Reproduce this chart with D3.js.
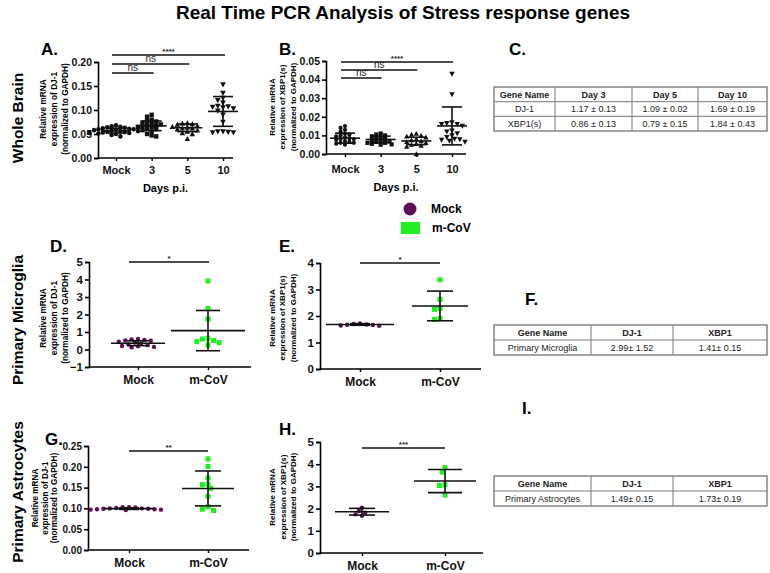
<!DOCTYPE html>
<html><head><meta charset="utf-8">
<script src="https://cdn.jsdelivr.net/npm/d3@7"></script>
<style>
body{margin:0;background:#fff;}
svg{display:block;font-family:"Liberation Sans",Arial,sans-serif;}
</style></head>
<body>
<svg id="fig" width="770" height="573"></svg>
<script>
// ---------------- DATA ----------------
const titleText = "Real Time PCR Analysis of Stress response genes";
const rowLabels = ["Whole Brain", "Primary Microglia", "Primary Astrocytes"];
const daysCats = ["Mock", "3", "5", "10"];
const twoCats = ["Mock", "m-CoV"];
const legendLabels = ["Mock", "m-CoV"];

// Panel A: DJ-1 whole brain
const A_mock = [0.045,0.048,0.050,0.051,0.052,0.053,0.054,0.055,0.056,0.057,0.058,0.059,0.060,0.061,0.062,0.063,0.064,0.065,0.066,0.068,0.052,0.056,0.060];
const A_d3 = [0.045,0.047,0.050,0.055,0.058,0.060,0.062,0.064,0.066,0.068,0.070,0.072,0.074,0.076,0.078,0.080,0.086,0.090,0.065,0.070];
const A_d5 = [0.040,0.050,0.052,0.055,0.058,0.060,0.062,0.064,0.065,0.067,0.070,0.071,0.072,0.073,0.062];
const A_d10 = [0.053,0.053,0.054,0.055,0.055,0.075,0.090,0.098,0.103,0.105,0.106,0.107,0.108,0.115,0.120,0.125,0.135,0.153];
const A_mean = [0.057,0.067,0.063,0.097];
const A_sd = [0.005,0.010,0.008,0.031];
const A_ticks = [0,0.05,0.10,0.15,0.20];
const A_sig = [["Mock","10","****"],["Mock","5","ns"],["Mock","3","ns"]];

// Panel B: XBP1(s) whole brain
const B_mock = [0.005,0.0055,0.006,0.0065,0.007,0.0075,0.008,0.0085,0.009,0.0095,0.010,0.0105,0.011,0.012,0.013,0.014,0.015,0.006,0.008];
const B_d3 = [0.005,0.0055,0.006,0.0065,0.007,0.007,0.0075,0.008,0.0085,0.009,0.0095,0.010,0.0105,0.011,0.0052,0.006];
const B_d5 = [0.000,0.004,0.0045,0.005,0.0055,0.006,0.0065,0.007,0.0075,0.008,0.009,0.010,0.0105,0.011,0.0095];
const B_d10 = [0.0065,0.007,0.0075,0.008,0.009,0.010,0.011,0.012,0.0125,0.015,0.016,0.016,0.0165,0.017,0.032,0.043,0.0078];
const B_mean = [0.0085,0.0078,0.0070,0.0151];
const B_sd = [0.0027,0.0018,0.0020,0.0102];
const B_ticks = [0,0.01,0.02,0.03,0.04,0.05];
const B_sig = [["Mock","10","****"],["Mock","5","ns"],["Mock","3","ns"]];

// Panel D: DJ-1 primary microglia
const D_mock = [0.12,0.15,0.18,0.20,0.25,0.30,0.35,0.40,0.45,0.50,0.52,0.55,0.58,0.60];
const D_mcov = [3.92,2.35,1.74,0.60,0.51,0.45,0.64,0.40,0.25];
const D_mean = [0.36,1.08];
const D_sd = [0.14,1.15];
const D_ticks = [-1,0,1,2,3,4,5];
const D_sig = [["Mock","m-CoV","*"]];

// Panel E: XBP1(s) primary microglia
const E_mock = [1.63,1.64,1.66,1.67,1.68,1.70,1.72];
const E_mcov = [3.37,2.63,2.29,2.25,1.90,1.87];
const E_mean = [1.68,2.38];
const E_sd = [0.03,0.56];
const E_ticks = [0,1,2,3,4];
const E_sig = [["Mock","m-CoV","*"]];

// Panel G: DJ-1 primary astrocytes
const G_mock = [0.096,0.097,0.097,0.098,0.098,0.099,0.099,0.100,0.100,0.101,0.102,0.103,0.103];
const G_mcov = [0.219,0.201,0.173,0.158,0.157,0.148,0.129,0.104,0.098,0.095];
const G_mean = [0.0995,0.148];
const G_sd = [0.002,0.042];
const G_ticks = [0,0.05,0.10,0.15,0.20,0.25];
const G_sig = [["Mock","m-CoV","**"]];

// Panel H: XBP1(s) primary astrocytes
const H_mock = [2.04,1.89,1.81,1.74,1.68];
const H_mcov = [3.85,3.64,3.07,3.04,2.61];
const H_mean = [1.86,3.24];
const H_sd = [0.15,0.52];
const H_ticks = [0,1,2,3,4,5];
const H_sig = [["Mock","m-CoV","***"]];

// Tables
const tableC_header = ["Gene Name","Day 3","Day 5","Day 10"];
const tableC_rows = [["DJ-1","1.17 ± 0.13","1.09 ± 0.02","1.69 ± 0.19"],["XBP1(s)","0.86 ± 0.13","0.79 ± 0.15","1.84 ± 0.43"]];
const tableF_header = ["Gene Name","DJ-1","XBP1"];
const tableF_rows = [["Primary Microglia","2.99± 1.52","1.41± 0.15"]];
const tableI_header = ["Gene Name","DJ-1","XBP1"];
const tableI_rows = [["Primary Astrocytes","1.49± 0.15","1.73± 0.19"]];

const yLabelDJ1 = ["Relative mRNA","expression of DJ-1","(normalized to GAPDH)"];
const yLabelXBP = ["Relative mRNA","expression of XBP1(s)","(normalized to GAPDH)"];

// ---------------- DRAWING ----------------
const svg = d3.select("#fig");
const PURPLE = "#5e0f55", GREEN = "#22ee22";

svg.append("text").attr("x", 403).attr("y", 19).attr("text-anchor","middle")
  .attr("font-size", 19).attr("font-weight","bold").text(titleText);

const rowLabelPos = [[19,118],[19,320],[19,492]];
rowLabels.forEach((t,i)=>{
  svg.append("text").attr("transform",`translate(${rowLabelPos[i][0]},${rowLabelPos[i][1]}) rotate(-90)`)
    .attr("text-anchor","middle").attr("dominant-baseline","middle")
    .attr("font-size",15.5).attr("font-weight","bold").text(t);
});

function shapePath(shape, size){
  const s = size;
  if (shape==="square") return `M${-s/2},${-s/2}h${s}v${s}h${-s}Z`;
  if (shape==="up") return `M0,${-s*0.55}L${s*0.55},${s*0.45}L${-s*0.55},${s*0.45}Z`;
  if (shape==="down") return `M0,${s*0.55}L${s*0.55},${-s*0.45}L${-s*0.55},${-s*0.45}Z`;
  return d3.symbol(d3.symbolCircle, Math.PI*(s/2)*(s/2))();
}

function dodge(values, y, diam, step){
  const pts = values.map(v=>({v, y:y(v)})).sort((a,b)=>a.y-b.y);
  const placed = [];
  for (const p of pts){
    for (let k=0;k<200;k++){
      const dx = (k%2===0?1:-1)*Math.ceil(k/2)*step;
      if (placed.every(q=>Math.hypot(q.dx-dx,q.y-p.y)>=diam)){p.dx=dx;break;}
    }
    placed.push(p);
  }
  return placed;
}

function panel(cfg){
  const g = svg.append("g");
  const y = d3.scaleLinear().domain(cfg.domain).range([cfg.yBot, cfg.yTop]);
  const x = d3.scalePoint().domain(cfg.cats).range(cfg.catRange);
  const ya = g.append("g").attr("transform",`translate(${cfg.x0},0)`)
    .call(d3.axisLeft(y).tickValues(cfg.ticks).tickFormat(cfg.fmt).tickSize(4).tickPadding(2));
  ya.select(".domain").attr("stroke","#000").attr("stroke-width",1.6);
  ya.selectAll(".tick line").attr("stroke-width",1.6);
  ya.selectAll("text").attr("font-size",cfg.tickFont).attr("font-weight","bold")
    .attr("font-family","'Liberation Sans',Arial,sans-serif").attr("fill","#111");
  const xa = g.append("g").attr("transform",`translate(0,${cfg.yBot})`)
    .call(d3.axisBottom(x).tickSize(3).tickPadding(cfg.xPad));
  xa.select(".domain").attr("d",`M${cfg.x0},0H${cfg.x1}`).attr("stroke-width",1.6);
  xa.selectAll(".tick line").attr("stroke-width",1.4);
  xa.selectAll("text").attr("font-size",cfg.xFont).attr("font-weight","bold")
    .attr("font-family","'Liberation Sans',Arial,sans-serif").attr("fill","#111");
  if (cfg.xTitle){
    g.append("text").attr("x",(cfg.x0+cfg.x1)/2).attr("y",cfg.xTitleY).attr("text-anchor","middle")
      .attr("font-size",11).attr("font-weight","bold").text(cfg.xTitle);
  }
  const yl = g.append("text").attr("transform",`translate(${cfg.ylX},${cfg.ylY}) rotate(-90)`)
    .attr("text-anchor","middle").attr("font-size",cfg.ylFont).attr("font-weight","bold");
  cfg.ylabel.forEach((t,i)=>yl.append("tspan").attr("x",0).attr("dy", i===0?0:cfg.ylGap).text(t));
  g.append("text").attr("x",cfg.letterX).attr("y",cfg.letterY).attr("font-size",17).attr("font-weight","bold").text(cfg.letter);
  cfg.groups.forEach((vals,i)=>{
    const cx = x(cfg.cats[i]);
    const st = cfg.styles[i];
    const pts = dodge(vals, y, st.size*st.coll, st.step);
    g.append("g").selectAll("path").data(pts).join("path")
      .attr("transform",d=>`translate(${cx+d.dx},${d.y})`)
      .attr("d",shapePath(st.shape, st.size)).attr("fill",st.color);
  });
  cfg.means.forEach((m,i)=>{
    const cx = x(cfg.cats[i]);
    const s = cfg.sds[i];
    const mh = cfg.meanHalf[i], ch = cfg.capHalf[i];
    const lg = g.append("g").attr("stroke","#111").attr("stroke-width",1.6).attr("fill","none");
    lg.append("line").attr("x1",cx-mh).attr("x2",cx+mh).attr("y1",y(m)).attr("y2",y(m));
    lg.append("line").attr("x1",cx).attr("x2",cx).attr("y1",y(m+s)).attr("y2",y(m-s));
    lg.append("line").attr("x1",cx-ch).attr("x2",cx+ch).attr("y1",y(m+s)).attr("y2",y(m+s));
    lg.append("line").attr("x1",cx-ch).attr("x2",cx+ch).attr("y1",y(m-s)).attr("y2",y(m-s));
  });
  cfg.sig.forEach((s,i)=>{
    const yy = cfg.sigY[i];
    const xa1 = x(s[0])+cfg.sigPad[0], xb = x(s[1])+cfg.sigPad[1];
    g.append("line").attr("x1",xa1).attr("x2",xb).attr("y1",yy).attr("y2",yy).attr("stroke","#111").attr("stroke-width",1.5);
    const isNs = s[2]==="ns";
    g.append("text").attr("x",(xa1+xb)/2).attr("y",yy-(isNs?2:1.5)).attr("text-anchor","middle")
      .attr("font-size",isNs?10:8).attr("font-weight",isNs?"normal":"bold").attr("fill","#222").text(s[2]);
  });
}

const f2 = d3.format(".2f"), fInt = d3.format("d");
const blk = (shape,size,step,coll)=>({shape,size,step,coll,color:"#111"});

panel({letter:"A.",letterX:41,letterY:55,domain:[0,0.2],yTop:62,yBot:158,x0:98,x1:233,cats:daysCats,catRange:[116,223],
  ticks:A_ticks,fmt:f2,tickFont:10.5,xFont:11,xPad:5,xTitle:"Days p.i.",xTitleY:192,
  ylabel:yLabelDJ1,ylX:46,ylY:109,ylFont:8.3,ylGap:10.8,
  groups:[A_mock,A_d3,A_d5,A_d10],styles:[blk("circle",4.6,2.2,0.85),blk("square",4.4,2.3,0.85),blk("up",5,2.5,0.85),blk("down",5.2,2.6,0.9)],
  means:A_mean,sds:A_sd,meanHalf:[15,15,15,15],capHalf:[10,10,10,10],
  sig:A_sig,sigY:[55,64,73],sigPad:[-4,2]});

panel({letter:"B.",letterX:279,letterY:55,domain:[0,0.05],yTop:61,yBot:154,x0:326,x1:466,cats:daysCats,catRange:[345,452],
  ticks:B_ticks,fmt:f2,tickFont:10.5,xFont:11,xPad:8,xTitle:"Days p.i.",xTitleY:191,
  ylabel:yLabelXBP,ylX:275,ylY:107,ylFont:8,ylGap:10.3,
  groups:[B_mock,B_d3,B_d5,B_d10],styles:[blk("circle",4.2,2.2,0.85),blk("square",4.2,2.2,0.85),blk("up",4.8,2.4,0.85),blk("down",5,2.6,0.9)],
  means:B_mean,sds:B_sd,meanHalf:[15,15,15,15],capHalf:[10,10,10,10],
  sig:B_sig,sigY:[62,70,78],sigPad:[-4,1]});

const mk = ()=>[{shape:"circle",size:4.4,step:3.2,coll:0.95,color:PURPLE},{shape:"square",size:5,step:2.8,coll:0.95,color:GREEN}];

panel({letter:"D.",letterX:50,letterY:252,domain:[-1,5],yTop:262,yBot:367,x0:89,x1:251,cats:twoCats,catRange:[138,208],
  ticks:D_ticks,fmt:fInt,tickFont:11.5,xFont:12,xPad:5,
  ylabel:yLabelDJ1,ylX:46,ylY:318,ylFont:8.3,ylGap:10.8,
  groups:[D_mock,D_mcov],styles:mk(),means:D_mean,sds:D_sd,meanHalf:[27,37],capHalf:[11,12],
  sig:D_sig,sigY:[262],sigPad:[-9,1]});

panel({letter:"E.",letterX:279,letterY:252,domain:[0,4],yTop:263,yBot:369,x0:320,x1:481,cats:twoCats,catRange:[360,440],
  ticks:E_ticks,fmt:fInt,tickFont:11.5,xFont:12,xPad:5,
  ylabel:yLabelXBP,ylX:275,ylY:318,ylFont:8,ylGap:10.3,
  groups:[E_mock,E_mcov],styles:mk(),means:E_mean,sds:E_sd,meanHalf:[34,28],capHalf:[10,13],
  sig:E_sig,sigY:[263],sigPad:[0,0]});

panel({letter:"G.",letterX:45,letterY:445,domain:[0,0.25],yTop:446,yBot:550,x0:88,x1:249,cats:twoCats,catRange:[129,208],
  ticks:G_ticks,fmt:f2,tickFont:10,xFont:12,xPad:5,
  ylabel:yLabelDJ1,ylX:38,ylY:498,ylFont:8.2,ylGap:9.6,
  groups:[G_mock,G_mcov],styles:mk(),means:G_mean,sds:G_sd,meanHalf:[25,26],capHalf:[10,13],
  sig:G_sig,sigY:[451],sigPad:[0,0]});

panel({letter:"H.",letterX:279,letterY:435,domain:[0,5],yTop:442,yBot:553,x0:320,x1:483,cats:twoCats,catRange:[362,445],
  ticks:H_ticks,fmt:fInt,tickFont:11.5,xFont:12,xPad:5,
  ylabel:yLabelXBP,ylX:275,ylY:497,ylFont:8,ylGap:10.5,
  groups:[H_mock,H_mcov],styles:mk(),means:H_mean,sds:H_sd,meanHalf:[27,31],capHalf:[13,17],
  sig:H_sig,sigY:[448],sigPad:[0,0]});

// Legend
const lg = svg.append("g");
lg.append("circle").attr("cx",410).attr("cy",209).attr("r",6.5).attr("fill",PURPLE);
lg.append("rect").attr("x",401).attr("y",222).attr("width",19).attr("height",12).attr("fill",GREEN);
lg.append("text").attr("x",431).attr("y",213).attr("font-size",12).attr("font-weight","bold").text(legendLabels[0]);
lg.append("text").attr("x",432).attr("y",232).attr("font-size",12).attr("font-weight","bold").text(legendLabels[1]);

// Tables
function table(letter, letterPos, header, rows, cols, rowY){
  svg.append("text").attr("x",letterPos[0]).attr("y",letterPos[1]).attr("font-size",17).attr("font-weight","bold").text(letter);
  const g = svg.append("g");
  const all = [header, ...rows];
  g.append("rect").attr("x",cols[0]).attr("y",rowY[0]).attr("width",cols[cols.length-1]-cols[0])
    .attr("height",rowY[rowY.length-1]-rowY[0]).attr("fill","none").attr("stroke","#666").attr("stroke-width",1.2);
  rowY.slice(1,-1).forEach(yy=>g.append("line").attr("x1",cols[0]).attr("x2",cols[cols.length-1]).attr("y1",yy).attr("y2",yy).attr("stroke","#777").attr("stroke-width",1));
  cols.slice(1,-1).forEach(xx=>g.append("line").attr("x1",xx).attr("x2",xx).attr("y1",rowY[0]).attr("y2",rowY[rowY.length-1]).attr("stroke","#777").attr("stroke-width",1));
  all.forEach((r,ri)=>r.forEach((t,ci)=>{
    g.append("text").attr("x",(cols[ci]+cols[ci+1])/2).attr("y",(rowY[ri]+rowY[ri+1])/2+3.3)
      .attr("text-anchor","middle").attr("font-size",9).attr("font-weight",ri===0?"bold":"normal").attr("fill","#222").text(t);
  }));
}
table("C.",[509,55],tableC_header,tableC_rows,[494,555,632,698,767],[87,101.7,116.3,131]);
table("F.",[525,305],tableF_header,tableF_rows,[494,591,673,767],[325,340,355]);
table("I.",[522,414],tableI_header,tableI_rows,[494,591,673,767],[476,491,506]);
</script>
</body></html>
